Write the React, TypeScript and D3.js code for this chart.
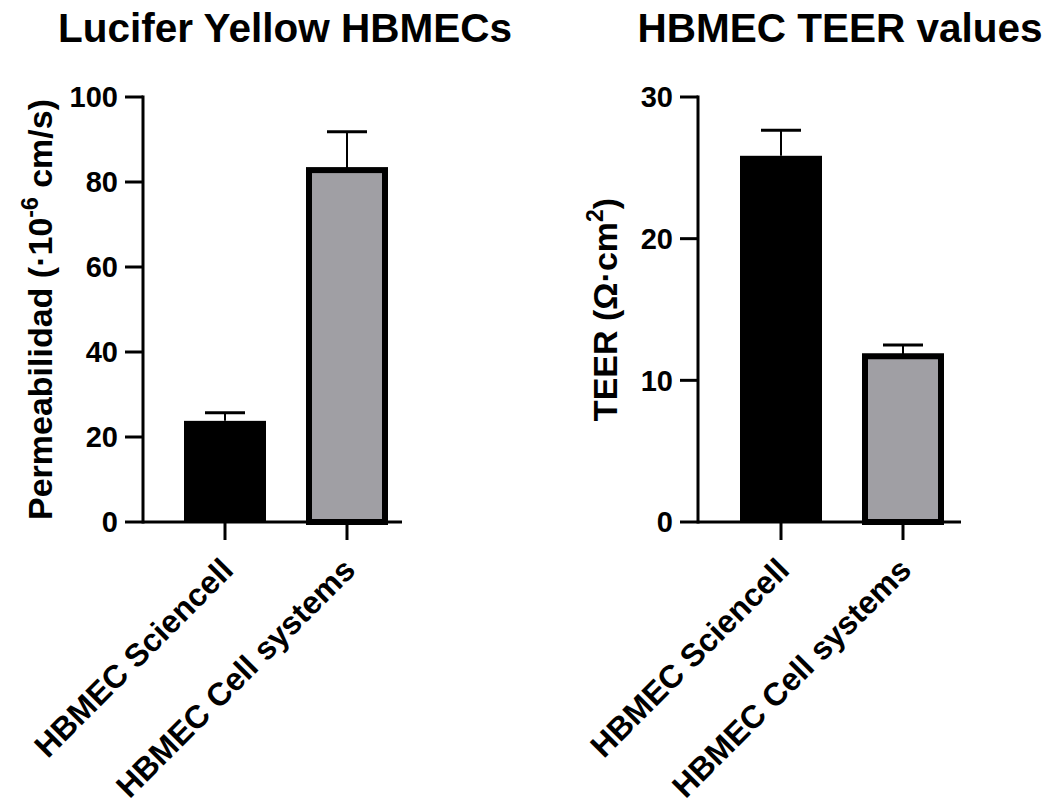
import * as d3 from "d3";
import React from "react";

const categories = ["HBMEC Sciencell", "HBMEC Cell systems"];
const permValues = [23.8, 82.8];
const permErrors = [1.9, 9.0];
const permTicks = [0, 20, 40, 60, 80, 100];
const teerValues = [25.85, 11.7];
const teerErrors = [1.8, 0.8];
const teerTicks = [0, 10, 20, 30];
const barFills = ["#000000", "#a09fa4"];

const FONT = "'Liberation Sans', Arial, Helvetica, sans-serif";

type PanelProps = {
  title: string;
  titleX: number;
  axisX: number;
  axisEnd: number;
  centers: [number, number];
  yMax: number;
  values: number[];
  errors: number[];
  ticks: number[];
  ylabel: React.ReactNode;
  ylabelX: number;
};

const Panel = (props: PanelProps) => {
  const { title, titleX, axisX, axisEnd, centers, yMax, values, errors, ticks, ylabel, ylabelX } = props;
  const y = d3.scaleLinear().domain([0, yMax]).range([522, 97]);
  const x = d3.scalePoint<string>().domain(categories).range(centers);
  const barW = 82;
  const capW = 40;

  return (
    <g>
      <text x={titleX} y={42} textAnchor="middle" fontFamily={FONT} fontWeight="bold" fontSize={40.5}>
        {title}
      </text>
      {values.map((v, i) => {
        const cx = x(categories[i])!;
        const top = y(v);
        const errTop = y(v + errors[i]);
        const gray = i === 1;
        return (
          <g key={i}>
            <line x1={cx} x2={cx} y1={top} y2={errTop} stroke="#000" strokeWidth={2} />
            <line x1={cx - capW / 2} x2={cx + capW / 2} y1={errTop} y2={errTop} stroke="#000" strokeWidth={3} />
            {gray ? (
              <rect x={cx - barW / 2 + 3} y={top} width={barW - 6} height={y(0) - top} fill={barFills[i]} stroke="#000" strokeWidth={6} />
            ) : (
              <rect x={cx - barW / 2} y={top} width={barW} height={y(0) - top} fill={barFills[i]} />
            )}
          </g>
        );
      })}
      {/* axes */}
      <line x1={axisX} x2={axisX} y1={y(yMax) - 1.5} y2={y(0) + 1.5} stroke="#000" strokeWidth={3} />
      <line x1={axisX} x2={axisEnd} y1={y(0)} y2={y(0)} stroke="#000" strokeWidth={3} />
      {ticks.map((t) => (
        <g key={t}>
          <line x1={axisX - 18} x2={axisX} y1={y(t)} y2={y(t)} stroke="#000" strokeWidth={3} />
          <text x={axisX - 25} y={y(t)} dy="0.36em" textAnchor="end" fontFamily={FONT} fontWeight="bold" fontSize={29}>
            {t}
          </text>
        </g>
      ))}
      {categories.map((c) => {
        const cx = x(c)!;
        return (
          <g key={c}>
            <line x1={cx} x2={cx} y1={y(0)} y2={y(0) + 18} stroke="#000" strokeWidth={3} />
            <text
              transform={`translate(${cx + 10},${y(0) + 50}) rotate(-45)`}
              textAnchor="end"
              fontFamily={FONT}
              fontWeight="bold"
              fontSize={32}
            >
              {c}
            </text>
          </g>
        );
      })}
      <text
        transform={`translate(${ylabelX},${(y(0) + y(yMax)) / 2}) rotate(-90)`}
        textAnchor="middle"
        fontFamily={FONT}
        fontWeight="bold"
        fontSize={34}
      >
        {ylabel}
      </text>
    </g>
  );
};

export default function App() {
  return (
    <svg width={1052} height={798} style={{ display: "block", position: "absolute", left: 0, top: 0 }}>
      <rect width={1052} height={798} fill="#fff" />
      <Panel
        title="Lucifer Yellow HBMECs"
        titleX={285}
        axisX={143}
        axisEnd={402}
        centers={[225, 347]}
        yMax={100}
        values={permValues}
        errors={permErrors}
        ticks={permTicks}
        ylabelX={52}
        ylabel={
          <>
            Permeabilidad (·10<tspan dy="-14" fontSize={23}>-6</tspan>
            <tspan dy="14"> cm/s)</tspan>
          </>
        }
      />
      <Panel
        title="HBMEC TEER values"
        titleX={840}
        axisX={698}
        axisEnd={961}
        centers={[781, 903]}
        yMax={30}
        values={teerValues}
        errors={teerErrors}
        ticks={teerTicks}
        ylabelX={617}
        ylabel={
          <>
            TEER (Ω·cm<tspan dy="-14" fontSize={23}>2</tspan>
            <tspan dy="14">)</tspan>
          </>
        }
      />
    </svg>
  );
}
